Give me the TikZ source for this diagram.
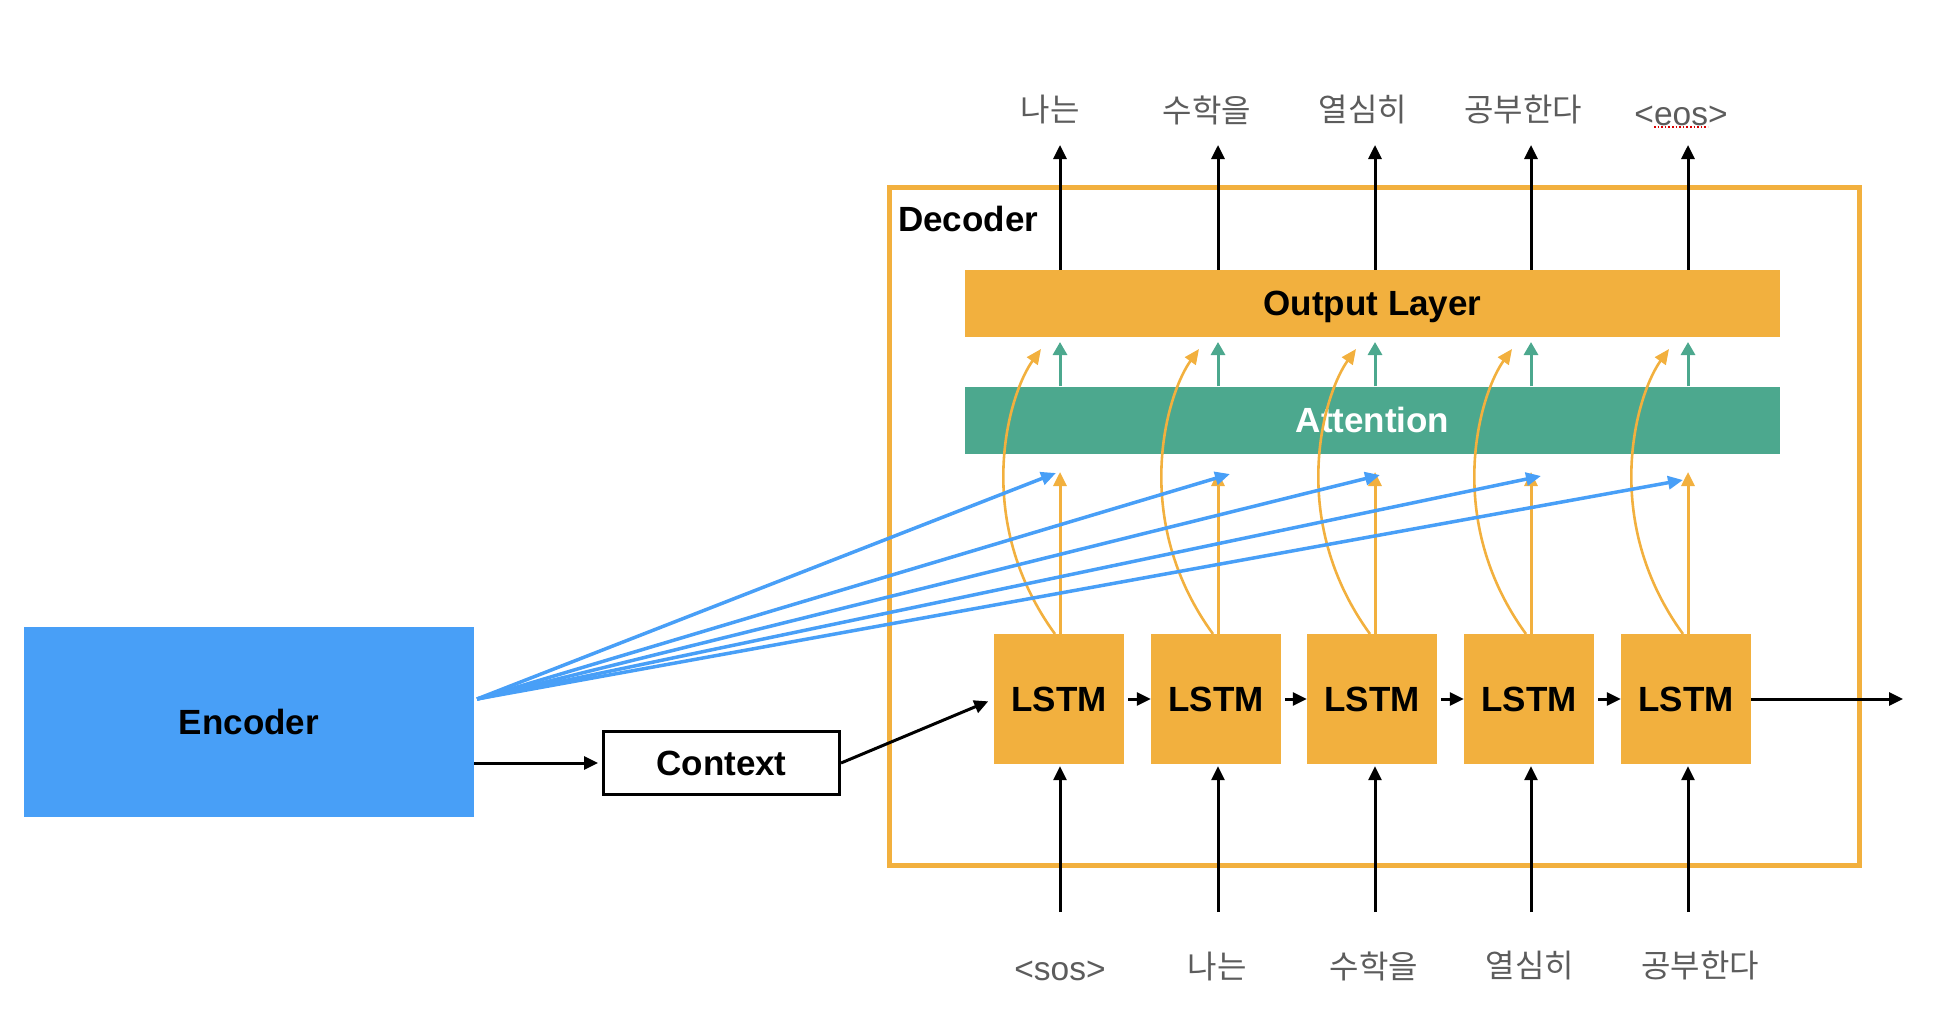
\documentclass[tikz,border=0pt]{standalone}
\usepackage{fontspec}
\setmainfont{Liberation Sans}
\newfontfamily\krfont{Noto Sans CJK KR}
\usetikzlibrary{arrows.meta}
\definecolor{orng}{HTML}{F2B03E}
\definecolor{grn}{HTML}{4CA88E}
\definecolor{blu}{HTML}{489FF7}
\definecolor{lbl}{HTML}{5C5C5C}
\begin{document}
\begin{tikzpicture}[x=1pt,y=-1pt,
  box/.style={rectangle, inner sep=0pt, font=\fontsize{35}{42}\selectfont\bfseries},
  lstmbox/.style={box, fill=orng, minimum width=130pt, minimum height=130pt},
  barbox/.style={box, minimum width=815pt, minimum height=67pt},
  lab/.style={inner sep=0pt, text=lbl, font=\fontsize{33.5}{40}\selectfont},
  klab/.style={inner sep=0pt, text=lbl, font=\fontsize{32}{38}\selectfont\krfont},
  blk/.style={line width=3pt, -{Triangle[length=14pt,width=13pt]}},
  oarr/.style={draw=orng, line width=3pt, -{Triangle[length=14pt,width=13pt]}},
  ocurve/.style={draw=orng, line width=2.6pt, -{Triangle[length=15pt,width=13pt]}},
  garr/.style={draw=grn, line width=3pt, -{Triangle[length=13pt,width=14pt]}},
  barr/.style={draw=blu, line width=3.5pt, -{Triangle[length=15pt,width=13pt]}}
]
\useasboundingbox (0,0) rectangle (1938,1022);

% decoder frame
\draw[orng, line width=5pt] (889,187) rectangle (1859,865);
\node[box, anchor=base west] (dec) at (898,231) {Decoder};

% encoder and context
\node[box, fill=blu, minimum width=450pt, minimum height=190pt] (enc) at (249,722) {Encoder};
\node[box, draw=black, line width=3pt, minimum width=236pt, minimum height=63pt] (ctx) at (721.5,763) {Context};

% layers
\node[barbox, fill=orng, text depth=0pt] (out) at (1372.5,303.5) {Output Layer};
\node[barbox, fill=grn, text=white] (att) at (1372.5,420) {Attention};

% LSTM cells
\node[lstmbox] (l1) at (1059,699) {LSTM};
\node[lstmbox] (l2) at (1216,699) {LSTM};
\node[lstmbox] (l3) at (1372,699) {LSTM};
\node[lstmbox] (l4) at (1529,699) {LSTM};
\node[lstmbox] (l5) at (1686,699) {LSTM};

% chain
\foreach \a/\b in {l1/l2,l2/l3,l3/l4,l4/l5}
  \draw[blk, shorten <=4pt] (\a.east) -- (\b.west);
\coordinate (fin) at (1903,699);
\draw[blk] (l5.east) -- (fin);

% encoder -> context -> lstm1
\draw[blk, shorten >=4pt] (enc.east |- ctx.west) -- (ctx.west);
\draw[blk, shorten >=6pt] (ctx.east) -- (l1.west);

% columns
\foreach \i/\c in {1/1060,2/1218,3/1375,4/1531,5/1688}{
  \coordinate (tt\i) at (\c,145);
  \coordinate (bb\i) at (\c,912);
  \coordinate (ot\i) at (\c,472);
  \coordinate (gt\i) at (\c,342);
}

% top outputs
\foreach \i in {1,...,5}
  \draw[blk] (out.north -| tt\i) -- (tt\i);
\node[klab] (o1) at (1050,110) {나는};
\node[klab] (o2) at (1207,110) {수학을};
\node[klab] (o3) at (1363,110) {열심히};
\node[klab] (o4) at (1523,110) {공부한다};
\node[lab] (o5) at (1681,116) {<eos>};
\draw[red!85!black, line width=1.6pt, dotted] (1654,127) -- (1708,127);

% bottom inputs
\foreach \i in {1,...,5}
  \draw[blk, shorten >=2pt] (bb\i) -- (bb\i |- l\i.south);
\node[lab] (i1) at (1060,971) {<sos>};
\node[klab] (i2) at (1217,966) {나는};
\node[klab] (i3) at (1374,966) {수학을};
\node[klab] (i4) at (1530,966) {열심히};
\node[klab] (i5) at (1700,966) {공부한다};

% orange straight arrows and green arrows
\foreach \i in {1,...,5}{
  \draw[oarr] (l\i.north -| ot\i) -- (ot\i);
  \draw[garr] (att.north -| gt\i) -- (gt\i);
}

% orange curved arrows
\foreach \i/\c in {1/1060,2/1218,3/1375,4/1531,5/1688}{
  \coordinate (cs\i) at (\c-5,634);
  \coordinate (ce\i) at (\c-19,349);
  \draw[ocurve] (cs\i) .. controls (\c-88,520) and (\c-52,395) .. (ce\i);
}

% blue attention inputs
\coordinate (es) at (477,699);
\coordinate (bt1) at (1056,473);
\coordinate (bt2) at (1230,474);
\coordinate (bt3) at (1380,475);
\coordinate (bt4) at (1541,476);
\coordinate (bt5) at (1683,480);
\foreach \i in {1,...,5}
  \draw[barr] (es) -- (bt\i);
\end{tikzpicture}
\end{document}
